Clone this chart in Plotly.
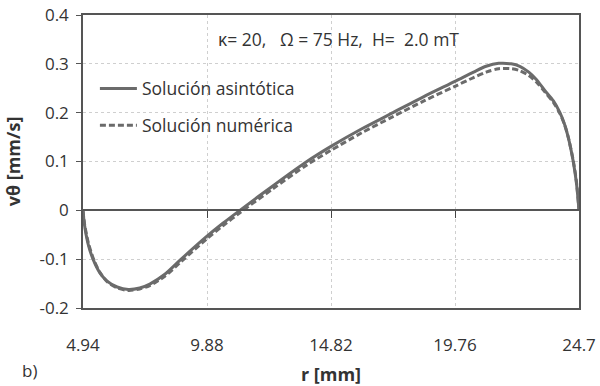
import plotly.graph_objects as go

r_asin = [4.94, 5.0, 5.15, 5.34, 5.6, 5.9, 6.3, 6.75, 7.2, 7.6, 8.2, 8.85, 9.88, 10.5, 11.19,
          12.5, 13.86, 14.82, 16.05, 17.29, 18.52, 19.76, 20.5, 21.0, 21.5, 22.0, 22.34,
          22.7, 23.0, 23.33, 23.68, 23.94, 24.12, 24.27, 24.47, 24.6, 24.7]
v_asin = [0.0, -0.03, -0.07, -0.1, -0.127, -0.145, -0.157, -0.162, -0.159, -0.151, -0.131,
          -0.1, -0.053, -0.027, 0.0, 0.05, 0.1, 0.131, 0.167, 0.2, 0.233, 0.264, 0.283,
          0.295, 0.301, 0.300, 0.295, 0.283, 0.268, 0.246, 0.224, 0.2, 0.177, 0.15, 0.1,
          0.055, 0.0]

r_num = [4.94, 5.0, 5.15, 5.34, 5.6, 5.9, 6.3, 6.75, 7.2, 7.6, 8.2, 8.85, 9.88, 10.5, 11.19,
         12.5, 13.86, 14.82, 16.05, 17.29, 18.52, 19.76, 20.5, 21.0, 21.5, 22.0, 22.34,
         22.7, 23.0, 23.33, 23.68, 23.94, 24.12, 24.27, 24.47, 24.6, 24.7]
v_num = [0.0, -0.027, -0.066, -0.097, -0.126, -0.146, -0.159, -0.164, -0.161, -0.154, -0.135,
         -0.105, -0.058, -0.032, -0.005, 0.044, 0.093, 0.123, 0.159, 0.192, 0.224, 0.254,
         0.272, 0.283, 0.29, 0.29, 0.286, 0.276, 0.263, 0.243, 0.221, 0.198, 0.176, 0.15,
         0.102, 0.058, 0.0]

x_ticks = [4.94, 9.88, 14.82, 19.76, 24.7]
x_ticklabels = ["4.94", "9.88", "14.82", "19.76", "24.7"]
y_ticks = [-0.2, -0.1, 0.0, 0.1, 0.2, 0.3, 0.4]
y_ticklabels = ["-0.2", "-0.1", "0", "0.1", "0.2", "0.3", "0.4"]

FONT = "Open Sans"
TXT = "#333333"
LINE = "#6b6b6b"

fig = go.Figure()
fig.add_trace(go.Scatter(x=r_asin, y=v_asin, mode="lines", name="Solución asintótica",
                         line=dict(color=LINE, width=3, shape="spline", smoothing=0.8),
                         legendgroup="a"))
fig.add_trace(go.Scatter(x=r_num, y=v_num, mode="lines", name="Solución numérica",
                         line=dict(color=LINE, width=3, dash="6px,3px", shape="spline",
                                   smoothing=0.8),
                         legendgroup="b"))
# invisible trace to carry the zero-axis (x2)
fig.add_trace(go.Scatter(x=[x_ticks[0], x_ticks[-1]], y=[0, 0], xaxis="x2", mode="lines",
                         line=dict(width=0), showlegend=False, hoverinfo="skip", opacity=0))

fig.update_layout(
    width=600, height=386,
    margin=dict(l=83, r=21, t=15, b=78),
    paper_bgcolor="white", plot_bgcolor="white",
    font=dict(family=FONT, size=17, color=TXT),
    showlegend=True,
    legend=dict(x=0.024, y=0.81, xanchor="left", yanchor="top", bgcolor="rgba(0,0,0,0)",
                font=dict(size=17.5, color=TXT), tracegroupgap=11, itemwidth=37),
    xaxis=dict(range=[4.94, 24.7], tickvals=x_ticks, ticktext=x_ticklabels,
               showgrid=True, gridcolor="#cfcfcf", griddash="3px,3px", gridwidth=1,
               showline=True, linecolor="#555555", linewidth=1.5, mirror=True,
               ticks="", ticklabelstandoff=21, zeroline=False, automargin=False,
               tickfont=dict(size=17, color=TXT),
               title=dict(text="<b>r [mm]</b>", standoff=16, font=dict(size=18, color=TXT))),
    xaxis2=dict(range=[4.94, 24.7], overlaying="x", anchor="free", position=1/3,
                tickvals=x_ticks[1:4], showticklabels=False, ticks="outside", ticklen=7,
                tickcolor="#444444", tickwidth=1.3, showgrid=False, showline=True,
                linecolor="#555555", linewidth=1.5, zeroline=False, automargin=False),
    yaxis=dict(range=[-0.2, 0.4], tickvals=y_ticks, ticktext=y_ticklabels,
               showgrid=True, gridcolor="#cfcfcf", griddash="3px,3px", gridwidth=1,
               showline=True, linecolor="#555555", linewidth=1.5, mirror=True,
               ticks="outside", ticklen=5, tickcolor="#555555", ticklabelstandoff=4,
               zeroline=False, automargin=False, tickfont=dict(size=17, color=TXT),
               title=dict(text="<b>vθ [mm/s]</b>", standoff=14, font=dict(size=18, color=TXT))),
    annotations=[
        dict(text="κ= 20,   Ω = 75 Hz,  H=  2.0 mT", xref="paper", yref="paper",
             x=0.515, y=0.918, xanchor="center", yanchor="middle", showarrow=False,
             font=dict(size=17.5, color=TXT)),
        dict(text="b)", xref="paper", yref="paper", x=-0.127, y=-0.212,
             xanchor="left", yanchor="middle", showarrow=False,
             font=dict(size=17, color=TXT)),
    ],
)

fig.write_html("out.html")
